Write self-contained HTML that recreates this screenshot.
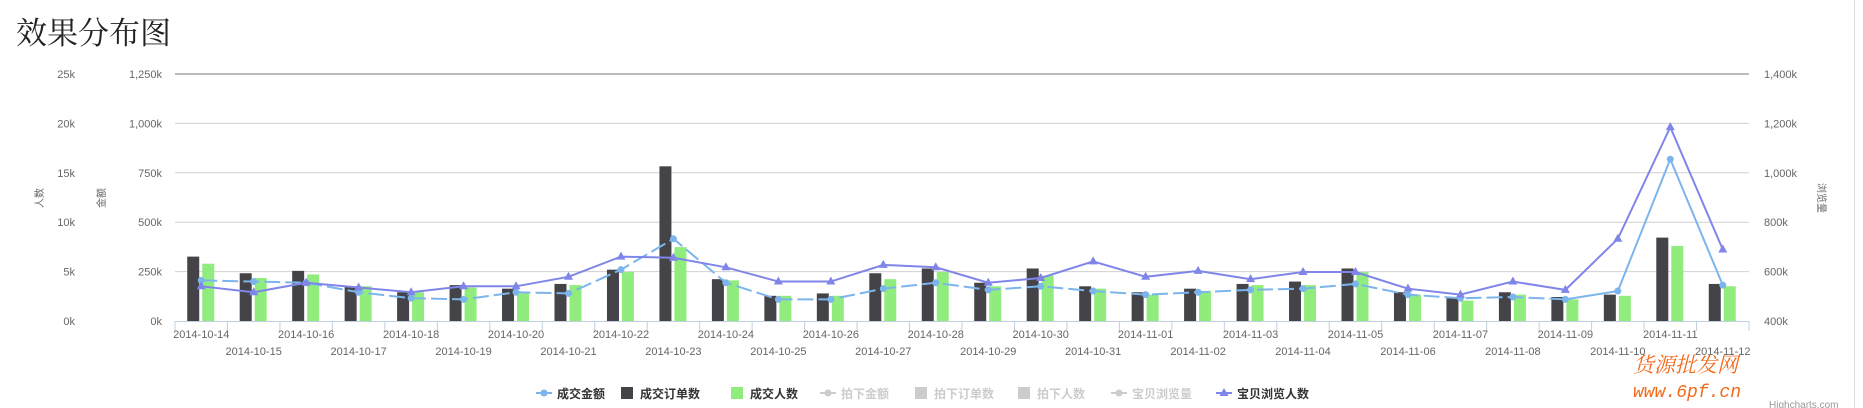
<!DOCTYPE html>
<html><head><meta charset="utf-8"><style>
body{margin:0;background:#fff;width:1863px;height:408px;overflow:hidden;font-family:"Liberation Sans","Noto Sans CJK SC",sans-serif}
</style></head><body>
<svg id="c" width="1863" height="408" xmlns="http://www.w3.org/2000/svg" style="position:absolute;left:0;top:0"></svg>
<script>
const S=1.188;
const L=175,R=1749,Y0=321,Y1=74;
const n=30,cw=(R-L)/n;
const dark=[216,230,228,241,246,240,243,239,227,140,235,249,247,230,226,238,226,241,246,243,239,237,226,246,251,246,250,248,200,239];
const green=[222,234,231,241,246,242,247,240,229,208,236,249,249,235,229,241,232,243,248,245,240,240,229,248,253,248,252,249,207,241];
const blue=[236,237,238,246,251,252,246,247,227,201,238,252,252,243,238,244,241,245,248,246,244,243,239,248,251,250,252,245,134,240];
const purp=[241,246,238,242,246,241,241,233,216,217,225,237,237,223,225,238,234,220,233,228,235,229,229,243,248,237,244,201,107,210];
let s='';
s+=`<text x="16" y="44" font-size="31" font-family="Liberation Serif,Noto Serif CJK SC,serif" fill="#222">效果分布图</text>`;
const gl=['0k','5k','10k','15k','20k','25k'],gm=['0k','250k','500k','750k','1,000k','1,250k'],gr=['400k','600k','800k','1,000k','1,200k','1,400k'];
for(let i=0;i<6;i++){const y=Y0-(Y0-Y1)*i/5;
 if(i>0)s+=`<line x1="${L}" x2="${R}" y1="${y}" y2="${y}" stroke="${i==5?'#bbb':'#d0d0d0'}" stroke-width="${i==5?2:1}"/>`;
 s+=`<text x="75" y="${y+4}" font-size="11" fill="#666" text-anchor="end">${gl[i]}</text>`;
 s+=`<text x="162" y="${y+4}" font-size="11" fill="#666" text-anchor="end">${gm[i]}</text>`;
 s+=`<text x="1764" y="${y+4}" font-size="11" fill="#666">${gr[i]}</text>`;}
s+=`<text transform="translate(43,198) rotate(-90)" font-size="10" fill="#666" text-anchor="middle">人数</text>`;
s+=`<text transform="translate(105,198) rotate(-90)" font-size="10" fill="#666" text-anchor="middle">金额</text>`;
s+=`<text transform="translate(1818,198) rotate(90)" font-size="10" fill="#666" text-anchor="middle">浏览量</text>`;
s+=`<line x1="${L}" x2="${R}" y1="${Y0+0.5}" y2="${Y0+0.5}" stroke="#c0d0e0"/>`;
const d0=new Date(2014,9,14);
for(let i=0;i<=n;i++){const x=L+i*cw;s+=`<line x1="${x}" x2="${x}" y1="${Y0}" y2="${Y0+10}" stroke="#c0d0e0"/>`;}
for(let i=0;i<n;i++){const cx=L+(i+0.5)*cw;const d=new Date(d0.getTime()+i*86400000);
 const t=`2014-${String(d.getMonth()+1).padStart(2,'0')}-${String(d.getDate()).padStart(2,'0')}`;
 s+=`<text x="${cx}" y="${i%2?355:338}" font-size="11" fill="#666" text-anchor="middle">${t}</text>`;
 const yd=dark[i]*S,yg=green[i]*S;
 s+=`<rect x="${cx-14}" y="${yd}" width="12" height="${Y0-yd}" fill="#434348"/>`;
 s+=`<rect x="${cx+1}" y="${yg}" width="12" height="${Y0-yg}" fill="#90ed7d"/>`;}
const pt=(a,i)=>`${L+(i+0.5)*cw},${a[i]*S}`;
let p1=[],p2=[];for(let i=0;i<27;i++)p1.push(pt(blue,i));for(let i=26;i<n;i++)p2.push(pt(blue,i));
s+=`<polyline points="${p1.join(' ')}" fill="none" stroke="#7cb5ec" stroke-width="2" stroke-dasharray="16,5"/>`;
s+=`<polyline points="${p2.join(' ')}" fill="none" stroke="#7cb5ec" stroke-width="2"/>`;
for(let i=0;i<n;i++){const x=L+(i+0.5)*cw,y=blue[i]*S;s+=`<circle cx="${x}" cy="${y}" r="3.5" fill="#7cb5ec"/>`;}
let pp=[];for(let i=0;i<n;i++)pp.push(pt(purp,i));
s+=`<polyline points="${pp.join(' ')}" fill="none" stroke="#8085e9" stroke-width="2"/>`;
for(let i=0;i<n;i++){const x=L+(i+0.5)*cw,y=purp[i]*S;s+=`<polygon points="${x},${y-5} ${x+4.5},${y+3} ${x-4.5},${y+3}" fill="#8085e9"/>`;}
const lg=[[544,'成交金额','line','#7cb5ec',1],[627,'成交订单数','rect','#434348',1],[737,'成交人数','rect','#90ed7d',1],[828,'拍下金额','line','#ccc',0],[921,'拍下订单数','rect','#ccc',0],[1024,'拍下人数','rect','#ccc',0],[1119,'宝贝浏览量','line','#ccc',0],[1224,'宝贝浏览人数','tri','#8085e9',1]];
for(const [x,t,k,c,on] of lg){const y=393;
 if(k=='rect')s+=`<rect x="${x-6}" y="${y-6}" width="12" height="12" fill="${c}"/>`;
 else{s+=`<line x1="${x-8}" x2="${x+8}" y1="${y}" y2="${y}" stroke="${c}" stroke-width="2"/>`;
  if(k=='tri')s+=`<polygon points="${x},${y-5} ${x+4.5},${y+3} ${x-4.5},${y+3}" fill="${c}"/>`;else s+=`<circle cx="${x}" cy="${y}" r="3.5" fill="${c}"/>`;}
 s+=`<text x="${x+13}" y="${y+5}" font-size="12" font-weight="bold" fill="${on?'#333':'#ccc'}">${t}</text>`;}
s+=`<text x="1633" y="372" font-size="21" fill="#f26a1b" font-family="Noto Serif CJK SC,serif" font-style="italic">货源批发网</text>`;
s+=`<text x="1633" y="397" font-size="18" fill="#f26a1b" font-family="Liberation Mono,monospace" font-style="italic">www.6pf.cn</text>`;
s+=`<text x="1769" y="408" font-size="10" fill="#999">Highcharts.com</text>`;
s+=`<line x1="1854.5" x2="1854.5" y1="0" y2="408" stroke="#ddd"/>`;
document.getElementById('c').innerHTML=s;
</script>
</body></html>
